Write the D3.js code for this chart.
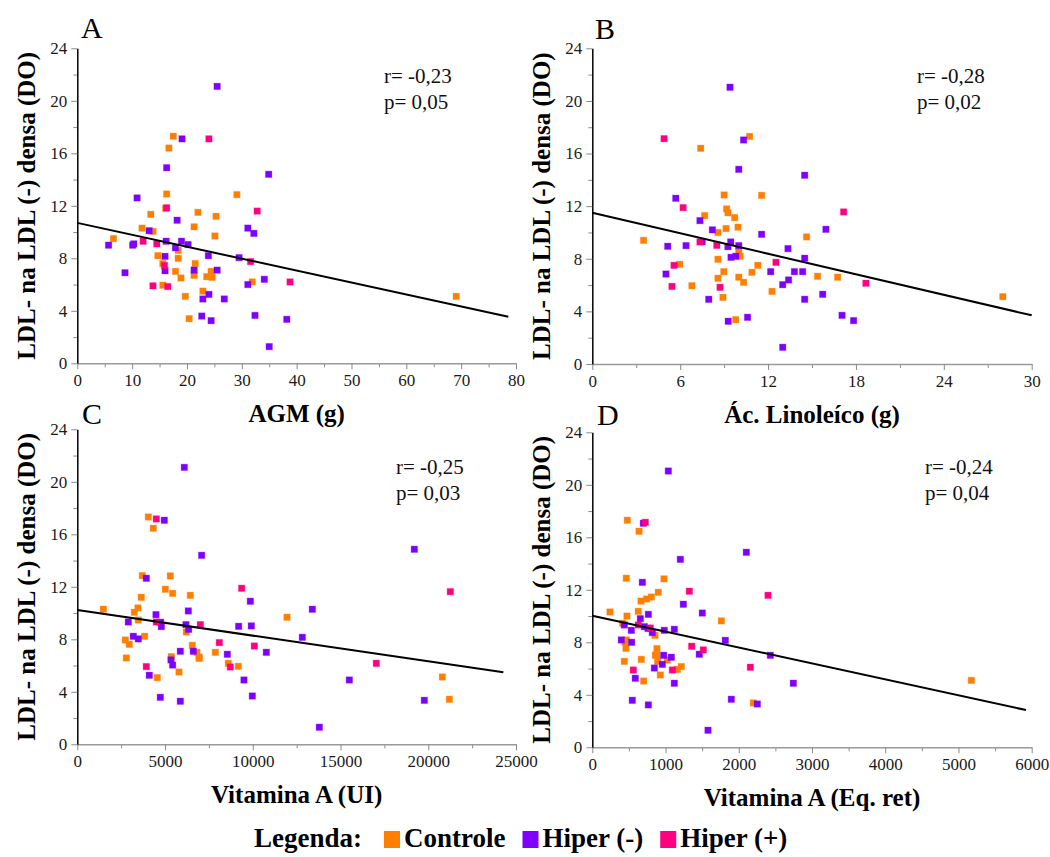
<!DOCTYPE html>
<html>
<head>
<meta charset="utf-8">
<script src="https://cdn.jsdelivr.net/npm/d3@7"></script>
<style>
  body { margin: 0; background: #fff; }
  svg { display: block; }
  text { font-family: "Liberation Serif", "Times New Roman", serif; }
</style>
</head>
<body>
<svg id="chart" width="1050" height="857"></svg>
<script>
// ---------- Data: [x, LDL(-) densa (DO)] per group ----------
// A: AGM (g)
const agmControle = [[17.5,17.3],[16.7,16.4],[16.3,12.9],[29.1,12.85],[13.4,11.35],[22.0,11.5],[25.3,11.2],[11.8,10.3],[13.8,10.05],[21.3,10.4],[6.6,9.5],[25.1,9.7],[16.1,11.8],[18.4,8.6],[14.7,8.2],[18.4,8.0],[15.6,7.6],[21.5,7.6],[17.9,7.0],[18.9,6.5],[21.3,6.7],[23.6,6.6],[24.4,7.0],[24.6,6.55],[31.9,6.2],[15.6,5.95],[19.7,5.1],[22.9,5.5],[20.4,3.4],[69.1,5.1]];
const agmHiperNeg = [[25.5,21.1],[19.1,17.1],[16.3,14.9],[34.9,14.4],[10.9,12.6],[18.2,10.9],[13.1,10.1],[31.1,10.3],[32.2,9.9],[5.7,9.0],[10.1,9.0],[10.3,9.1],[16.2,9.3],[19.0,9.3],[20.2,9.05],[17.9,8.8],[16.0,8.15],[23.9,8.2],[29.5,8.05],[8.7,6.9],[16.0,7.05],[21.3,7.1],[25.5,7.1],[34.1,6.4],[31.1,6.0],[24.0,5.25],[22.9,4.9],[26.8,4.9],[22.7,3.6],[24.4,3.25],[32.4,3.65],[38.2,3.35],[35.0,1.27]];
const agmHiperPos = [[24.0,17.1],[16.3,11.85],[32.8,11.6],[12.0,9.3],[14.5,9.1],[31.6,7.75],[15.9,7.45],[13.8,5.9],[16.5,5.85],[38.8,6.2]];
const agmFit = [[0,10.7],[78.6,3.55]];

// B: Ác. Linoleíco (g)
const linControle = [[10.74,17.3],[7.4,16.4],[9.0,12.85],[11.56,12.82],[7.67,11.28],[9.17,11.79],[9.26,11.5],[9.72,11.13],[9.13,10.3],[9.95,10.4],[8.58,10.0],[3.5,9.4],[14.63,9.66],[10.0,8.62],[10.1,8.19],[8.58,7.96],[5.97,7.58],[11.3,7.5],[8.98,7.02],[10.9,6.97],[8.58,6.52],[10.0,6.6],[15.38,6.67],[16.75,6.6],[10.33,6.21],[6.8,5.95],[12.27,5.52],[8.92,5.07],[9.79,3.37],[28.03,5.12]];
const linHiperNeg = [[9.4,21.04],[10.33,17.03],[10.0,14.8],[14.5,14.35],[5.7,12.6],[7.35,10.9],[8.2,10.2],[11.56,9.86],[15.95,10.24],[5.15,8.95],[6.4,9.0],[7.5,9.3],[9.45,9.28],[9.26,8.92],[10.0,9.0],[13.36,8.77],[9.47,8.11],[9.8,8.19],[14.5,8.04],[5.03,6.84],[12.18,7.02],[13.8,7.02],[14.36,7.02],[13.4,6.39],[13.0,6.03],[15.73,5.3],[7.95,4.92],[14.5,4.92],[9.28,3.25],[10.6,3.55],[17.05,3.7],[17.84,3.3],[13.0,1.27]];
const linHiperPos = [[4.9,17.13],[6.2,11.89],[17.16,11.56],[7.35,9.28],[8.5,9.02],[12.54,7.73],[5.58,7.5],[5.44,5.9],[8.72,5.83],[18.68,6.14]];
const linFit = [[0,11.5],[30,3.7]];

// C: Vitamina A (UI)
const vaUiControle = [[4046,17.32],[4331,16.46],[3704,12.85],[5300,12.83],[3647,11.2],[5015,11.81],[5433,11.5],[6440,11.35],[1482,10.29],[3248,10.06],[3457,10.39],[3476,9.47],[11949,9.68],[6212,8.56],[3837,8.23],[2736,7.95],[2963,7.62],[6554,7.54],[6820,7.01],[6934,6.65],[7865,7.01],[5357,6.68],[2793,6.58],[8606,6.17],[9175,5.94],[5794,5.51],[4559,5.08],[20802,5.13],[21201,3.43],[6950,6.55]];
const vaUiHiperNeg = [[6098,21.1],[4958,17.07],[7086,14.4],[19206,14.86],[3932,12.65],[6326,10.16],[9860,10.9],[13393,10.29],[2906,9.32],[4483,9.88],[4749,9.3],[4787,8.97],[6193,9.12],[6345,8.76],[9194,8.99],[9916,9.02],[3191,8.23],[3476,8.03],[12823,8.15],[5870,7.09],[6611,7.09],[8549,6.86],[10771,7.01],[5338,6.43],[5433,6.04],[4103,5.26],[9498,4.9],[15501,4.9],[4730,3.58],[5870,3.28],[9973,3.68],[19776,3.35],[13792,1.3]];
const vaUiHiperPos = [[4502,17.17],[9365,11.89],[21257,11.63],[7010,9.12],[4502,9.32],[8093,7.75],[10087,7.49],[3932,5.92],[8720,5.89],[17040,6.17]];
const vaUiFit = [[0,10.23],[24280,5.49]];

// D: Vitamina A (Eq. ret)
const vaEqControle = [[478,17.3],[638,16.46],[464,12.88],[979,12.83],[901,11.81],[665,11.14],[742,11.3],[806,11.45],[241,10.31],[473,10.0],[628,10.36],[1762,9.63],[414,9.45],[856,8.53],[446,8.0],[460,7.54],[883,7.52],[860,7.01],[892,6.55],[1024,6.65],[669,6.7],[437,6.55],[1215,6.15],[1161,5.94],[701,5.05],[929,5.51],[2199,3.38],[5176,5.1],[464,8.18],[880,7.05]];
const vaEqHiperNeg = [[1038,21.05],[697,17.07],[1202,14.32],[2103,14.86],[683,12.57],[1243,10.9],[1502,10.23],[765,10.13],[656,9.8],[437,9.32],[710,9.19],[533,8.91],[819,8.74],[983,8.91],[1120,8.99],[396,8.18],[537,8.0],[1816,8.15],[1461,7.09],[974,7.01],[1079,6.86],[2431,7.01],[956,6.32],[847,6.04],[587,5.26],[1120,4.88],[2745,4.88],[546,3.58],[765,3.23],[1898,3.66],[2253,3.3],[1580,1.3],[760,9.05]];
const vaEqHiperPos = [[724,17.14],[1325,11.89],[2399,11.58],[628,9.32],[792,9.09],[1357,7.7],[1516,7.42],[560,5.89],[1093,5.89],[2158,6.1]];
const vaEqFit = [[0,10.03],[5922,2.84]];

// ---------- Labels ----------
const groupNames = ["Controle", "Hiper (-)", "Hiper (+)"];
const groupColors = ["#ff7f00", "#7f00ff", "#ff0080"];
const yTitle = "LDL- na LDL (-) densa (DO)";
const yTicks = [0, 4, 8, 12, 16, 20, 24];
const statsR = ["r= -0,23", "r= -0,28", "r= -0,25", "r= -0,24"];
const statsP = ["p= 0,05", "p= 0,02", "p= 0,03", "p= 0,04"];

// ---------- Panel layout ----------
const panels = [
  { letter: "A", groups: [agmControle, agmHiperNeg, agmHiperPos], fit: agmFit,
    xMax: 80, xStep: 10, xTitle: "AGM (g)",
    left: 77.3, right: 516, bottom: 363.3, top: 48.3, statX: 384, statY: 83, letterX: 81, letterY: 38 },
  { letter: "B", groups: [linControle, linHiperNeg, linHiperPos], fit: linFit,
    xMax: 30, xStep: 6, xTitle: "Ác. Linoleíco (g)",
    left: 592.3, right: 1031.7, bottom: 364, top: 48.3, statX: 917, statY: 83, letterX: 595, letterY: 39 },
  { letter: "C", groups: [vaUiControle, vaUiHiperNeg, vaUiHiperPos], fit: vaUiFit,
    xMax: 25000, xStep: 5000, xTitle: "Vitamina A (UI)",
    left: 77.3, right: 516, bottom: 744.3, top: 429.3, statX: 396, statY: 474, letterX: 82, letterY: 424 },
  { letter: "D", groups: [vaEqControle, vaEqHiperNeg, vaEqHiperPos], fit: vaEqFit,
    xMax: 6000, xStep: 1000, xTitle: "Vitamina A (Eq. ret)",
    left: 592.3, right: 1031.7, bottom: 747.3, top: 432.3, statX: 925, statY: 474, letterX: 597, letterY: 425 }
];

const svg = d3.select("#chart");
const tickColor = "#8a8a8a";
const labelColor = "#1a1a1a";
const markSize = 6.4;

panels.forEach((p, i) => {
  const x = d3.scaleLinear().domain([0, p.xMax]).range([p.left, p.right]);
  const y = d3.scaleLinear().domain([0, 24]).range([p.bottom, p.top]);
  const g = svg.append("g");

  // x axis: minor ticks, then labelled major ticks
  const xMinor = d3.range(p.xStep / 2, p.xMax, p.xStep);
  g.append("g").attr("transform", `translate(0,${p.bottom})`)
    .call(d3.axisBottom(x).tickValues(xMinor).tickSize(4).tickSizeOuter(0).tickFormat(""))
    .call(s => s.select(".domain").remove())
    .call(s => s.selectAll("line").attr("stroke", tickColor));
  const xAxis = g.append("g").attr("transform", `translate(0,${p.bottom})`)
    .call(d3.axisBottom(x).tickValues(d3.range(0, p.xMax + p.xStep / 2, p.xStep)).tickSize(6).tickSizeOuter(0).tickPadding(5).tickFormat(d3.format("d")));
  xAxis.select(".domain").attr("stroke", "#9a9a9a").attr("stroke-width", 1.5);
  xAxis.selectAll("line").attr("stroke", tickColor);
  xAxis.selectAll("text").attr("font-size", 17).attr("fill", labelColor)
    .attr("font-family", '"Liberation Serif", serif');

  // y axis
  g.append("g").attr("transform", `translate(${p.left},0)`)
    .call(d3.axisLeft(y).tickValues(d3.range(2, 24, 4)).tickSize(4).tickSizeOuter(0).tickFormat(""))
    .call(s => s.select(".domain").remove())
    .call(s => s.selectAll("line").attr("stroke", tickColor));
  const yAxis = g.append("g").attr("transform", `translate(${p.left},0)`)
    .call(d3.axisLeft(y).tickValues(yTicks).tickSize(6).tickSizeOuter(0).tickPadding(4));
  yAxis.select(".domain").attr("stroke", "#000").attr("stroke-width", 1.5);
  yAxis.selectAll("line").attr("stroke", tickColor);
  yAxis.selectAll("text").attr("font-size", 17).attr("fill", labelColor)
    .attr("font-family", '"Liberation Serif", serif');

  // points: controle, hiper (-), hiper (+)
  p.groups.forEach((pts, k) => {
    g.append("g").selectAll("rect").data(pts).join("rect")
      .attr("x", d => x(d[0]) - markSize / 2)
      .attr("y", d => y(d[1]) - markSize / 2)
      .attr("width", markSize).attr("height", markSize)
      .attr("fill", groupColors[k])
      .attr("stroke", groupColors[k]).attr("stroke-opacity", 0.3).attr("stroke-width", 1);
  });

  // regression line
  g.append("path").datum(p.fit)
    .attr("d", d3.line().x(d => x(d[0])).y(d => y(d[1])))
    .attr("stroke", "#000").attr("stroke-width", 2).attr("fill", "none");

  // r / p annotation
  g.append("text").attr("x", p.statX).attr("y", p.statY).attr("font-size", 21).attr("fill", "#111").text(statsR[i]);
  g.append("text").attr("x", p.statX).attr("y", p.statY + 26).attr("font-size", 21).attr("fill", "#111").text(statsP[i]);

  // panel letter
  g.append("text").attr("x", p.letterX).attr("y", p.letterY).attr("font-size", 30).attr("fill", "#000").text(p.letter);

  // axis titles
  g.append("text").attr("x", (p.left + p.right) / 2).attr("y", p.bottom + 59)
    .attr("text-anchor", "middle").attr("font-size", 25).attr("font-weight", "bold").attr("fill", "#000")
    .text(p.xTitle);
  g.append("text")
    .attr("transform", `translate(${p.left - 42},${(p.top + p.bottom) / 2}) rotate(-90)`)
    .attr("text-anchor", "middle").attr("font-size", 25).attr("font-weight", "bold").attr("fill", "#000")
    .text(yTitle);
});

// legend
const legend = svg.append("g").attr("font-size", 27).attr("font-weight", "bold");
legend.append("text").attr("x", 254).attr("y", 847).text("Legenda:");
let lx = 384;
groupNames.forEach((name, k) => {
  legend.append("rect").attr("x", lx).attr("y", 831).attr("width", 16).attr("height", 17).attr("fill", groupColors[k]);
  const t = legend.append("text").attr("x", lx + 20).attr("y", 847).text(name);
  lx += 20 + t.node().getComputedTextLength() + 17;
});
</script>
</body>
</html>
